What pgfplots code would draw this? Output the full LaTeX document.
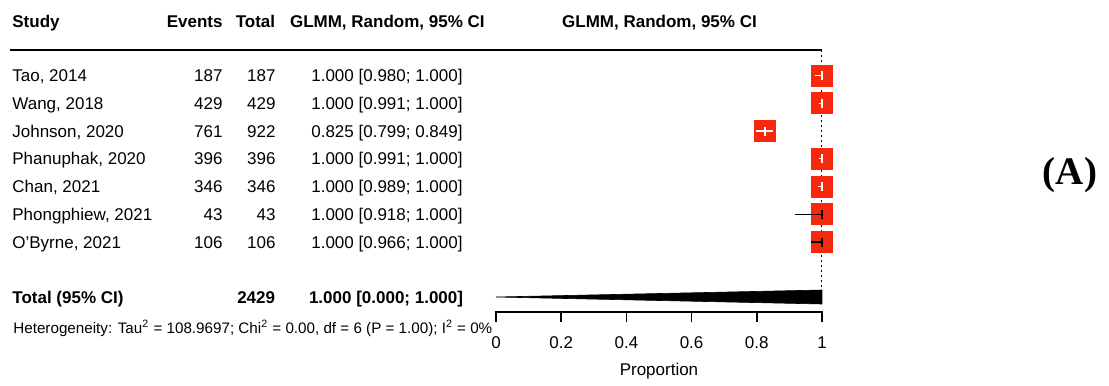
\documentclass[border=0pt]{standalone}
\usepackage{fontspec}
\setmainfont{Liberation Sans}
\newfontfamily\serifbf{Liberation Serif}
\usepackage{pgfplots}
\usepackage{pgfplotstable}
\pgfplotsset{compat=1.18}
\definecolor{boxred}{RGB}{248,40,12}

% y = 382 - pixel row
\pgfplotstableread{
y est
306.50 1.000
278.75 1.000
251.00 0.825
223.25 1.000
195.50 1.000
167.75 1.000
140.00 1.000
}\studies

\begin{document}
\begin{tikzpicture}[font=\fontsize{8.5}{10}\selectfont]
\begin{axis}[
  scale only axis, width=163pt, height=156pt,
  xmin=0, xmax=1, ymin=70, ymax=382,
  axis x line*=bottom, axis y line*=left,
  y axis line style={draw=none}, ytick=\empty,
  xtick={0,0.2,0.4,0.6,0.8,1},
  xticklabels={0,0.2,0.4,0.6,0.8,1},
  tick align=outside, major tick length=5pt,
  axis line style={black, line width=0.75pt},
  xtick style={black, line width=0.75pt},
  xticklabel style={font=\fontsize{8.5}{10}\selectfont, inner sep=0pt, yshift=-7pt},
  xlabel={Proportion},
  every axis x label/.style={at={(axis description cs:0.5,0)}, anchor=base, yshift=-31.5pt, font=\fontsize{8.5}{10}\selectfont},
  clip=false, clip marker paths=true,
]
% reference line
\addplot[black, line width=0.5pt, dash pattern=on 1pt off 1.5pt] coordinates {(1,332) (1,90)};
% pooled diamond
\addplot[fill=black, draw=black, line width=0.3pt] coordinates {(0,85) (1,92) (1,85) (1,78) (0,85)};
% study boxes
\addplot[only marks, mark=square*, mark size=5.25pt, mark options={fill=boxred, draw=boxred, line width=0pt}] table[x=est, y=y] {\studies};
% CIs inside boxes (white)
\addplot[draw=white, line width=0.7pt] coordinates {(0.980,306.5) (1.000,306.5)};
\addplot[draw=white, line width=0.7pt] coordinates {(0.991,278.75) (1.000,278.75)};
\addplot[draw=white, line width=0.7pt] coordinates {(0.799,251) (0.849,251)};
\addplot[draw=white, line width=0.7pt] coordinates {(0.991,223.25) (1.000,223.25)};
\addplot[draw=white, line width=0.7pt] coordinates {(0.989,195.5) (1.000,195.5)};
\addplot[only marks, mark=|, mark size=2.25pt, white, line width=0.6pt] coordinates {(1,306.5) (1,278.75) (0.825,251) (1,223.25) (1,195.5)};
% CIs extending beyond boxes (black)
\addplot[draw=black, line width=0.7pt] coordinates {(0.918,167.75) (1.000,167.75)};
\addplot[draw=black, line width=0.7pt] coordinates {(0.966,140) (1.000,140)};
\addplot[only marks, mark=|, mark size=2.25pt, black, line width=0.7pt] coordinates {(1,167.75) (1,140)};
\coordinate (P0) at (axis cs:-1.521472,382);
\end{axis}
\begin{scope}[shift={(P0)}, x=0.5pt, y=-0.5pt, every node/.style={inner sep=0pt}]
\path (0,0) rectangle (1109,382);
% header
\node[anchor=base west] at (12,27.5) {\bfseries Study};
\node[anchor=base east] at (223,27.5) {\bfseries Events};
\node[anchor=base east] at (275.5,27.5) {\bfseries Total};
\node[anchor=base east] at (485,27.5) {\bfseries GLMM, Random, 95\% CI};
\node[anchor=base] at (659.5,27.5) {\bfseries GLMM, Random, 95\% CI};
\draw[line width=0.9pt] (10,50) -- (822,50);
% x axis line and ticks (reinforced)
\draw[black, line width=0.8pt, line cap=rect] (496,312) -- (822,312);
\draw[black, line width=0.75pt] (496,312) -- (496,322) (561.2,312) -- (561.2,322) (626.4,312) -- (626.4,322)
  (691.6,312) -- (691.6,322) (756.8,312) -- (756.8,322) (822,312) -- (822,322);
% rows
\foreach \yy/\name/\ev/\tot/\ci in {
  75.5/{Tao, 2014}/187/187/{1.000 [0.980; 1.000]},
  103.25/{Wang, 2018}/429/429/{1.000 [0.991; 1.000]},
  131/{Johnson, 2020}/761/922/{0.825 [0.799; 0.849]},
  158.75/{Phanuphak, 2020}/396/396/{1.000 [0.991; 1.000]},
  186.5/{Chan, 2021}/346/346/{1.000 [0.989; 1.000]},
  214.25/{Phongphiew, 2021}/43/43/{1.000 [0.918; 1.000]},
  242/{O'Byrne, 2021}/106/106/{1.000 [0.966; 1.000]}}{
  \node[anchor=base west] at (12,\yy+6) {\name};
  \node[anchor=base east] at (223,\yy+6) {\ev};
  \node[anchor=base east] at (276,\yy+6) {\tot};
  \node[anchor=base east] at (463,\yy+6) {\ci};
}
% total
\node[anchor=base west] at (12,303) {\bfseries Total (95\% CI)};
\node[anchor=base east] at (275.5,303) {\bfseries 2429};
\node[anchor=base east] at (463.5,303) {\bfseries 1.000 [0.000; 1.000]};
\node[anchor=base west, font=\fontsize{7.6}{9}\selectfont] at (13,333) {Heterogeneity: Tau\textsuperscript{2} = 108.9697; Chi\textsuperscript{2} = 0.00, df = 6 (P = 1.00); I\textsuperscript{2} = 0\%};
% panel label
\node[anchor=base, font=\serifbf\bfseries\fontsize{19.5}{22}\selectfont] at (1070,184) {(A)};
\end{scope}
\end{tikzpicture}
\end{document}
